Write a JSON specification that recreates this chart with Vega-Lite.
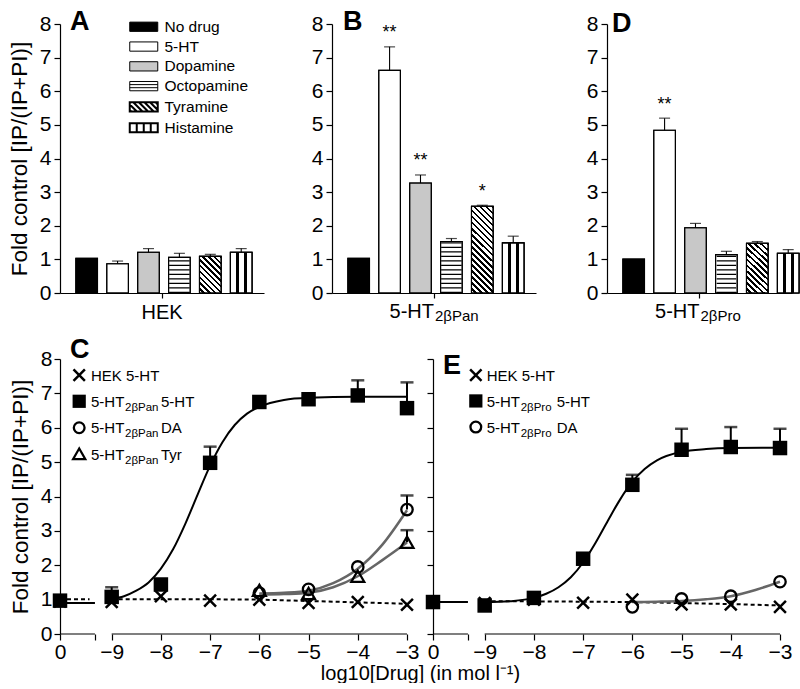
{
 "$schema": "https://vega.github.io/schema/vega-lite/v6.json",
 "padding": {"left": 8, "top": 8, "right": 0, "bottom": 0},
 "config": {
  "view": {"stroke": null},
  "font": "Liberation Sans",
  "text": {"font": "Liberation Sans", "color": "black"},
  "axis": {"labelFont": "Liberation Sans", "titleFont": "Liberation Sans", "labelColor": "black", "titleColor": "black", "domainColor": "black", "tickColor": "black", "grid": false, "labelFontSize": 21, "titleFontSize": 22.5, "titleFontWeight": "normal", "domainWidth": 1.2, "tickWidth": 1.2},
  "title": {"font": "Liberation Sans", "color": "black", "fontSize": 27, "fontWeight": "bold", "anchor": "start", "frame": "group", "baseline": "alphabetic"}
 },
 "datasets": {
  "one": [{"k": 1}],
  "bars": [
   {"panel": "A", "cell": "HEK", "drug": "No drug", "mean": 1.03, "upper": null, "sig": null},
   {"panel": "A", "cell": "HEK", "drug": "5-HT", "mean": 0.87, "upper": 0.95, "sig": null},
   {"panel": "A", "cell": "HEK", "drug": "Dopamine", "mean": 1.21, "upper": 1.32, "sig": null},
   {"panel": "A", "cell": "HEK", "drug": "Octopamine", "mean": 1.06, "upper": 1.18, "sig": null},
   {"panel": "A", "cell": "HEK", "drug": "Tyramine", "mean": 1.09, "upper": 1.15, "sig": null},
   {"panel": "A", "cell": "HEK", "drug": "Histamine", "mean": 1.21, "upper": 1.32, "sig": null},
   {"panel": "B", "cell": "5-HT2βPan", "drug": "No drug", "mean": 1.03, "upper": null, "sig": null},
   {"panel": "B", "cell": "5-HT2βPan", "drug": "5-HT", "mean": 6.62, "upper": 7.32, "sig": "**"},
   {"panel": "B", "cell": "5-HT2βPan", "drug": "Dopamine", "mean": 3.27, "upper": 3.51, "sig": "**"},
   {"panel": "B", "cell": "5-HT2βPan", "drug": "Octopamine", "mean": 1.53, "upper": 1.62, "sig": null},
   {"panel": "B", "cell": "5-HT2βPan", "drug": "Tyramine", "mean": 2.58, "upper": 2.61, "sig": "*"},
   {"panel": "B", "cell": "5-HT2βPan", "drug": "Histamine", "mean": 1.49, "upper": 1.69, "sig": null},
   {"panel": "D", "cell": "5-HT2βPro", "drug": "No drug", "mean": 1.01, "upper": null, "sig": null},
   {"panel": "D", "cell": "5-HT2βPro", "drug": "5-HT", "mean": 4.84, "upper": 5.2, "sig": "**"},
   {"panel": "D", "cell": "5-HT2βPro", "drug": "Dopamine", "mean": 1.94, "upper": 2.07, "sig": null},
   {"panel": "D", "cell": "5-HT2βPro", "drug": "Octopamine", "mean": 1.14, "upper": 1.24, "sig": null},
   {"panel": "D", "cell": "5-HT2βPro", "drug": "Tyramine", "mean": 1.48, "upper": 1.53, "sig": null},
   {"panel": "D", "cell": "5-HT2βPro", "drug": "Histamine", "mean": 1.18, "upper": 1.29, "sig": null}
  ],
  "curves": [
   {"panel": "C", "series": "HEK", "seg": "a", "x": -10.05, "y": 1.01},
   {"panel": "C", "series": "HEK", "seg": "a", "x": -9.45, "y": 1.01},
   {"panel": "C", "series": "HEK", "seg": "b", "x": -9, "y": 1.01},
   {"panel": "C", "series": "HEK", "seg": "b", "x": -8, "y": 1.01},
   {"panel": "C", "series": "HEK", "seg": "b", "x": -7, "y": 1.01},
   {"panel": "C", "series": "HEK", "seg": "b", "x": -6, "y": 1.0},
   {"panel": "C", "series": "HEK", "seg": "b", "x": -5, "y": 0.96},
   {"panel": "C", "series": "HEK", "seg": "b", "x": -4, "y": 0.92},
   {"panel": "C", "series": "HEK", "seg": "b", "x": -3, "y": 0.88},
   {"panel": "C", "series": "R5HT", "seg": "a", "x": -10.05, "y": 0.9},
   {"panel": "C", "series": "R5HT", "seg": "a", "x": -9.34, "y": 0.9},
   {"panel": "C", "series": "R5HT", "seg": "b", "x": -9, "y": 1.02},
   {"panel": "C", "series": "R5HT", "seg": "b", "x": -8.75, "y": 1.1},
   {"panel": "C", "series": "R5HT", "seg": "b", "x": -8.5, "y": 1.26},
   {"panel": "C", "series": "R5HT", "seg": "b", "x": -8.25, "y": 1.5},
   {"panel": "C", "series": "R5HT", "seg": "b", "x": -8, "y": 1.9},
   {"panel": "C", "series": "R5HT", "seg": "b", "x": -7.75, "y": 2.47},
   {"panel": "C", "series": "R5HT", "seg": "b", "x": -7.5, "y": 3.22},
   {"panel": "C", "series": "R5HT", "seg": "b", "x": -7.25, "y": 4.07},
   {"panel": "C", "series": "R5HT", "seg": "b", "x": -7, "y": 4.9},
   {"panel": "C", "series": "R5HT", "seg": "b", "x": -6.75, "y": 5.58},
   {"panel": "C", "series": "R5HT", "seg": "b", "x": -6.5, "y": 6.08},
   {"panel": "C", "series": "R5HT", "seg": "b", "x": -6.25, "y": 6.41},
   {"panel": "C", "series": "R5HT", "seg": "b", "x": -6, "y": 6.61},
   {"panel": "C", "series": "R5HT", "seg": "b", "x": -5.5, "y": 6.81},
   {"panel": "C", "series": "R5HT", "seg": "b", "x": -5, "y": 6.87},
   {"panel": "C", "series": "R5HT", "seg": "b", "x": -4, "y": 6.9},
   {"panel": "C", "series": "R5HT", "seg": "b", "x": -3, "y": 6.9},
   {"panel": "C", "series": "RDA", "seg": "b", "x": -6, "y": 1.18},
   {"panel": "C", "series": "RDA", "seg": "b", "x": -5.5, "y": 1.2},
   {"panel": "C", "series": "RDA", "seg": "b", "x": -5, "y": 1.26},
   {"panel": "C", "series": "RDA", "seg": "b", "x": -4.5, "y": 1.48},
   {"panel": "C", "series": "RDA", "seg": "b", "x": -4, "y": 1.9},
   {"panel": "C", "series": "RDA", "seg": "b", "x": -3.5, "y": 2.6},
   {"panel": "C", "series": "RDA", "seg": "b", "x": -3, "y": 3.6},
   {"panel": "C", "series": "RTyr", "seg": "b", "x": -6, "y": 1.14},
   {"panel": "C", "series": "RTyr", "seg": "b", "x": -5.5, "y": 1.16},
   {"panel": "C", "series": "RTyr", "seg": "b", "x": -5, "y": 1.2},
   {"panel": "C", "series": "RTyr", "seg": "b", "x": -4.5, "y": 1.36},
   {"panel": "C", "series": "RTyr", "seg": "b", "x": -4, "y": 1.68},
   {"panel": "C", "series": "RTyr", "seg": "b", "x": -3.5, "y": 2.15},
   {"panel": "C", "series": "RTyr", "seg": "b", "x": -3, "y": 2.66},
   {"panel": "E", "series": "HEK", "seg": "b", "x": -9, "y": 0.95},
   {"panel": "E", "series": "HEK", "seg": "b", "x": -8, "y": 0.95},
   {"panel": "E", "series": "HEK", "seg": "b", "x": -7, "y": 0.94},
   {"panel": "E", "series": "HEK", "seg": "b", "x": -6, "y": 0.93},
   {"panel": "E", "series": "HEK", "seg": "b", "x": -5, "y": 0.9},
   {"panel": "E", "series": "HEK", "seg": "b", "x": -4, "y": 0.87},
   {"panel": "E", "series": "HEK", "seg": "b", "x": -3, "y": 0.83},
   {"panel": "E", "series": "R5HT", "seg": "a", "x": -10.05, "y": 0.93},
   {"panel": "E", "series": "R5HT", "seg": "a", "x": -9.34, "y": 0.93},
   {"panel": "E", "series": "R5HT", "seg": "b", "x": -9, "y": 0.92},
   {"panel": "E", "series": "R5HT", "seg": "b", "x": -8.5, "y": 0.95},
   {"panel": "E", "series": "R5HT", "seg": "b", "x": -8, "y": 1.05},
   {"panel": "E", "series": "R5HT", "seg": "b", "x": -7.75, "y": 1.17},
   {"panel": "E", "series": "R5HT", "seg": "b", "x": -7.5, "y": 1.36},
   {"panel": "E", "series": "R5HT", "seg": "b", "x": -7.25, "y": 1.65},
   {"panel": "E", "series": "R5HT", "seg": "b", "x": -7, "y": 2.08},
   {"panel": "E", "series": "R5HT", "seg": "b", "x": -6.75, "y": 2.65},
   {"panel": "E", "series": "R5HT", "seg": "b", "x": -6.5, "y": 3.29},
   {"panel": "E", "series": "R5HT", "seg": "b", "x": -6.25, "y": 3.91},
   {"panel": "E", "series": "R5HT", "seg": "b", "x": -6, "y": 4.43},
   {"panel": "E", "series": "R5HT", "seg": "b", "x": -5.75, "y": 4.8},
   {"panel": "E", "series": "R5HT", "seg": "b", "x": -5.5, "y": 5.05},
   {"panel": "E", "series": "R5HT", "seg": "b", "x": -5, "y": 5.3},
   {"panel": "E", "series": "R5HT", "seg": "b", "x": -4.5, "y": 5.38},
   {"panel": "E", "series": "R5HT", "seg": "b", "x": -4, "y": 5.41},
   {"panel": "E", "series": "R5HT", "seg": "b", "x": -3, "y": 5.42},
   {"panel": "E", "series": "RDA", "seg": "b", "x": -6, "y": 0.93},
   {"panel": "E", "series": "RDA", "seg": "b", "x": -5.5, "y": 0.94},
   {"panel": "E", "series": "RDA", "seg": "b", "x": -5, "y": 0.96},
   {"panel": "E", "series": "RDA", "seg": "b", "x": -4.5, "y": 1.01},
   {"panel": "E", "series": "RDA", "seg": "b", "x": -4, "y": 1.1},
   {"panel": "E", "series": "RDA", "seg": "b", "x": -3.5, "y": 1.28},
   {"panel": "E", "series": "RDA", "seg": "b", "x": -3, "y": 1.52}
  ],
  "points": [
   {"panel": "C", "series": "HEK", "x": -10.05, "y": 0.95, "upper": null},
   {"panel": "C", "series": "HEK", "x": -9, "y": 0.93, "upper": null},
   {"panel": "C", "series": "HEK", "x": -8, "y": 1.1, "upper": null},
   {"panel": "C", "series": "HEK", "x": -7, "y": 0.97, "upper": null},
   {"panel": "C", "series": "HEK", "x": -6, "y": 1.0, "upper": null},
   {"panel": "C", "series": "HEK", "x": -5, "y": 0.9, "upper": null},
   {"panel": "C", "series": "HEK", "x": -4, "y": 0.93, "upper": null},
   {"panel": "C", "series": "HEK", "x": -3, "y": 0.85, "upper": null},
   {"panel": "C", "series": "R5HT", "x": -10.05, "y": 0.97, "upper": null},
   {"panel": "C", "series": "R5HT", "x": -9, "y": 1.08, "upper": 1.36},
   {"panel": "C", "series": "R5HT", "x": -8, "y": 1.44, "upper": null},
   {"panel": "C", "series": "R5HT", "x": -7, "y": 4.98, "upper": 5.45},
   {"panel": "C", "series": "R5HT", "x": -6, "y": 6.75, "upper": null},
   {"panel": "C", "series": "R5HT", "x": -5, "y": 6.83, "upper": null},
   {"panel": "C", "series": "R5HT", "x": -4, "y": 6.94, "upper": 7.38},
   {"panel": "C", "series": "R5HT", "x": -3, "y": 6.57, "upper": 7.32},
   {"panel": "C", "series": "RDA", "x": -6, "y": 1.19, "upper": null},
   {"panel": "C", "series": "RDA", "x": -5, "y": 1.3, "upper": null},
   {"panel": "C", "series": "RDA", "x": -4, "y": 1.95, "upper": null},
   {"panel": "C", "series": "RDA", "x": -3, "y": 3.62, "upper": 4.03},
   {"panel": "C", "series": "RTyr", "x": -6, "y": 1.27, "upper": null},
   {"panel": "C", "series": "RTyr", "x": -5, "y": 1.18, "upper": null},
   {"panel": "C", "series": "RTyr", "x": -4, "y": 1.68, "upper": null},
   {"panel": "C", "series": "RTyr", "x": -3, "y": 2.67, "upper": 3.02},
   {"panel": "E", "series": "HEK", "x": -10.05, "y": 0.93, "upper": null},
   {"panel": "E", "series": "HEK", "x": -9, "y": 0.9, "upper": null},
   {"panel": "E", "series": "HEK", "x": -8, "y": 1.0, "upper": null},
   {"panel": "E", "series": "HEK", "x": -7, "y": 0.91, "upper": null},
   {"panel": "E", "series": "HEK", "x": -6, "y": 1.0, "upper": null},
   {"panel": "E", "series": "HEK", "x": -5, "y": 0.86, "upper": null},
   {"panel": "E", "series": "HEK", "x": -4, "y": 0.86, "upper": null},
   {"panel": "E", "series": "HEK", "x": -3, "y": 0.79, "upper": null},
   {"panel": "E", "series": "R5HT", "x": -10.05, "y": 0.93, "upper": null},
   {"panel": "E", "series": "R5HT", "x": -9, "y": 0.83, "upper": null},
   {"panel": "E", "series": "R5HT", "x": -8, "y": 1.05, "upper": null},
   {"panel": "E", "series": "R5HT", "x": -7, "y": 2.19, "upper": null},
   {"panel": "E", "series": "R5HT", "x": -6, "y": 4.34, "upper": 4.63},
   {"panel": "E", "series": "R5HT", "x": -5, "y": 5.36, "upper": 5.97},
   {"panel": "E", "series": "R5HT", "x": -4, "y": 5.44, "upper": 6.02},
   {"panel": "E", "series": "R5HT", "x": -3, "y": 5.41, "upper": 5.97},
   {"panel": "E", "series": "RDA", "x": -6, "y": 0.79, "upper": null},
   {"panel": "E", "series": "RDA", "x": -5, "y": 1.02, "upper": null},
   {"panel": "E", "series": "RDA", "x": -4, "y": 1.1, "upper": null},
   {"panel": "E", "series": "RDA", "x": -3, "y": 1.52, "upper": null}
  ]
 },
 "spacing": 12,
 "vconcat": [
  {
   "bounds": "flush",
   "spacing": 68,
   "hconcat": [
    {
     "width": 204, "height": 269,
     "title": {"text": "A", "offset": -23.3, "dx": 10},
     "data": {"name": "bars"},
     "transform": [{"filter": "datum.panel === 'A'"}],
     "encoding": {
      "x": {"field": "cell", "type": "nominal", "scale": {"paddingInner": 0, "paddingOuter": 0}, "axis": {"title": null, "labelAngle": 0, "tickSize": 5, "labelPadding": 4, "labelFontSize": 20}},
      "y": {"field": "mean", "type": "quantitative", "scale": {"domain": [0, 8]}, "axis": {"values": [0, 1, 2, 3, 4, 5, 6, 7, 8], "tickSize": 6, "labelPadding": 3, "titlePadding": 8}, "title": "Fold control [IP/(IP+PI)]"}
     },
     "layer": [
      {"mark": {"type": "bar", "stroke": "black", "strokeWidth": 1.1},
       "encoding": {
        "xOffset": {"field": "drug", "type": "nominal", "sort": ["No drug", "5-HT", "Dopamine", "Octopamine", "Tyramine", "Histamine"], "scale": {"domain": ["No drug", "5-HT", "Dopamine", "Octopamine", "Tyramine", "Histamine"], "paddingInner": 0.3, "paddingOuter": 0.45, "align": 0.57}},
        "fill": {"field": "drug", "type": "nominal", "scale": {"domain": ["No drug", "5-HT", "Dopamine", "Octopamine", "Tyramine", "Histamine"], "range": ["black", "white", "#c8c8c8", "white", "white", "white"]},
        "legend": {"orient": "none", "legendX": 76, "legendY": -5, "title": null, "labelFontSize": 15.5, "labelFont": "Liberation Sans", "labelColor": "black", "symbolSize": 196, "labelOffset": 13, "rowPadding": 2.8, "symbolStrokeColor": "black", "symbolStrokeWidth": 1, "symbolOpacity": 1,
         "encode": {"symbols": {"update": {
          "shape": {"signal": "datum.value === 'Octopamine' ? 'M-2,-0.66H2V0.66H-2Z M-2,-0.22H2 M-2,0.22H2' : datum.value === 'Tyramine' ? 'M-2,-0.66H2V0.66H-2Z M-2,-0.36L-0.98,0.66 M-1.5,-0.66L-0.18,0.66 M-0.7,-0.66L0.62,0.66 M0.1,-0.66L1.42,0.66 M0.9,-0.66L2,0.44 M1.7,-0.66L2,-0.36 M-2,0.44L-1.78,0.66' : datum.value === 'Histamine' ? 'M-2,-0.66H2V0.66H-2Z M-1,-0.66V0.66 M0,-0.66V0.66 M1,-0.66V0.66' : 'M-2,-0.66H2V0.66H-2Z'"},
          "strokeWidth": {"signal": "datum.value === 'Tyramine' || datum.value === 'Histamine' ? 2 : 1"},
          "stroke": {"value": "black"}
         }}}}}}},
      {"transform": [{"filter": "datum.drug === 'Octopamine'"}], "mark": {"type": "rule", "color": "black", "strokeWidth": 20.6, "strokeDash": [1.3, 3.2], "strokeCap": "butt"}, "encoding": {"xOffset": {"field": "drug", "type": "nominal"}, "y": {"datum": 0}, "y2": {"field": "mean"}}},
      {"transform": [{"filter": "datum.drug === 'Histamine'"}], "mark": {"type": "bar", "stroke": "black", "strokeWidth": 1.1, "fill": {"gradient": "linear", "x1": 0, "y1": 0, "x2": 1, "y2": 0, "stops": [{"offset": 0, "color": "white"}, {"offset": 0.26, "color": "white"}, {"offset": 0.26, "color": "black"}, {"offset": 0.4, "color": "black"}, {"offset": 0.4, "color": "white"}, {"offset": 0.62, "color": "white"}, {"offset": 0.62, "color": "black"}, {"offset": 0.76, "color": "black"}, {"offset": 0.76, "color": "white"}, {"offset": 1, "color": "white"}]}}, "encoding": {"xOffset": {"field": "drug", "type": "nominal"}}},
      {"transform": [{"filter": "datum.drug === 'Tyramine'"}], "mark": {"type": "bar", "stroke": "black", "strokeWidth": 1.1, "fill": {"gradient": "linear", "x1": 0, "y1": 1, "x2": 0.696, "y2": -0.179, "stops": [
       {"offset": 0, "color": "white"}, {"offset": 0.055, "color": "white"}, {"offset": 0.055, "color": "black"}, {"offset": 0.1, "color": "black"},
       {"offset": 0.1, "color": "white"}, {"offset": 0.155, "color": "white"}, {"offset": 0.155, "color": "black"}, {"offset": 0.2, "color": "black"},
       {"offset": 0.2, "color": "white"}, {"offset": 0.255, "color": "white"}, {"offset": 0.255, "color": "black"}, {"offset": 0.3, "color": "black"},
       {"offset": 0.3, "color": "white"}, {"offset": 0.355, "color": "white"}, {"offset": 0.355, "color": "black"}, {"offset": 0.4, "color": "black"},
       {"offset": 0.4, "color": "white"}, {"offset": 0.455, "color": "white"}, {"offset": 0.455, "color": "black"}, {"offset": 0.5, "color": "black"},
       {"offset": 0.5, "color": "white"}, {"offset": 0.555, "color": "white"}, {"offset": 0.555, "color": "black"}, {"offset": 0.6, "color": "black"},
       {"offset": 0.6, "color": "white"}, {"offset": 0.655, "color": "white"}, {"offset": 0.655, "color": "black"}, {"offset": 0.7, "color": "black"},
       {"offset": 0.7, "color": "white"}, {"offset": 0.755, "color": "white"}, {"offset": 0.755, "color": "black"}, {"offset": 0.8, "color": "black"},
       {"offset": 0.8, "color": "white"}, {"offset": 0.855, "color": "white"}, {"offset": 0.855, "color": "black"}, {"offset": 0.9, "color": "black"},
       {"offset": 0.9, "color": "white"}, {"offset": 0.955, "color": "white"}, {"offset": 0.955, "color": "black"}, {"offset": 1, "color": "black"}]}}, "encoding": {"xOffset": {"field": "drug", "type": "nominal"}}},
      {"mark": {"type": "bar", "fill": "transparent", "stroke": "black", "strokeWidth": 1.1}, "encoding": {"xOffset": {"field": "drug", "type": "nominal"}}},
      {"transform": [{"filter": "datum.upper != null"}], "mark": {"type": "rule", "color": "black", "strokeWidth": 1.1}, "encoding": {"xOffset": {"field": "drug", "type": "nominal"}, "y2": {"field": "upper"}}},
      {"transform": [{"filter": "datum.upper != null"}], "mark": {"type": "tick", "orient": "horizontal", "color": "black", "size": 11, "thickness": 1.2}, "encoding": {"xOffset": {"field": "drug", "type": "nominal"}, "y": {"field": "upper", "type": "quantitative", "title": "Fold control [IP/(IP+PI)]"}}}
     ]
    },
    {
     "bounds": "flush",
     "spacing": 71,
     "hconcat": [
      {
       "width": 204, "height": 269,
       "title": {"text": "B", "offset": -23.3, "dx": 11},
       "data": {"name": "bars"},
       "transform": [{"filter": "datum.panel === 'B'"}],
       "encoding": {
        "x": {"field": "cell", "type": "nominal", "scale": {"paddingInner": 0, "paddingOuter": 0}, "axis": {"title": null, "labels": false, "tickSize": 5}},
        "y": {"field": "mean", "type": "quantitative", "scale": {"domain": [0, 8]}, "axis": {"values": [0, 1, 2, 3, 4, 5, 6, 7, 8], "tickSize": 6, "labelPadding": 3}, "title": null}
       },
       "layer": [
        {"mark": {"type": "bar", "stroke": "black", "strokeWidth": 1.1}, "encoding": {
         "xOffset": {"field": "drug", "type": "nominal", "sort": ["No drug", "5-HT", "Dopamine", "Octopamine", "Tyramine", "Histamine"], "scale": {"domain": ["No drug", "5-HT", "Dopamine", "Octopamine", "Tyramine", "Histamine"], "paddingInner": 0.3, "paddingOuter": 0.45, "align": 0.43}},
         "fill": {"field": "drug", "type": "nominal", "scale": {"domain": ["No drug", "5-HT", "Dopamine", "Octopamine", "Tyramine", "Histamine"], "range": ["black", "white", "#c8c8c8", "white", "white", "white"]}, "legend": null}}},
        {"transform": [{"filter": "datum.drug === 'Octopamine'"}], "mark": {"type": "rule", "color": "black", "strokeWidth": 20.6, "strokeDash": [1.3, 3.2], "strokeCap": "butt"}, "encoding": {"xOffset": {"field": "drug", "type": "nominal"}, "y": {"datum": 0}, "y2": {"field": "mean"}}},
        {"transform": [{"filter": "datum.drug === 'Histamine'"}], "mark": {"type": "bar", "stroke": "black", "strokeWidth": 1.1, "fill": {"gradient": "linear", "x1": 0, "y1": 0, "x2": 1, "y2": 0, "stops": [{"offset": 0, "color": "white"}, {"offset": 0.26, "color": "white"}, {"offset": 0.26, "color": "black"}, {"offset": 0.4, "color": "black"}, {"offset": 0.4, "color": "white"}, {"offset": 0.62, "color": "white"}, {"offset": 0.62, "color": "black"}, {"offset": 0.76, "color": "black"}, {"offset": 0.76, "color": "white"}, {"offset": 1, "color": "white"}]}}, "encoding": {"xOffset": {"field": "drug", "type": "nominal"}}},
        {"transform": [{"filter": "datum.drug === 'Tyramine'"}], "mark": {"type": "bar", "stroke": "black", "strokeWidth": 1.1, "fill": {"gradient": "linear", "x1": 0, "y1": 1, "x2": 0.2926, "y2": -0.176, "stops": [
         {"offset": 0, "color": "white"}, {"offset": 0.03056, "color": "white"}, {"offset": 0.03056, "color": "black"}, {"offset": 0.05556, "color": "black"},
         {"offset": 0.05556, "color": "white"}, {"offset": 0.08611, "color": "white"}, {"offset": 0.08611, "color": "black"}, {"offset": 0.11111, "color": "black"},
         {"offset": 0.11111, "color": "white"}, {"offset": 0.14167, "color": "white"}, {"offset": 0.14167, "color": "black"}, {"offset": 0.16667, "color": "black"},
         {"offset": 0.16667, "color": "white"}, {"offset": 0.19722, "color": "white"}, {"offset": 0.19722, "color": "black"}, {"offset": 0.22222, "color": "black"},
         {"offset": 0.22222, "color": "white"}, {"offset": 0.25278, "color": "white"}, {"offset": 0.25278, "color": "black"}, {"offset": 0.27778, "color": "black"},
         {"offset": 0.27778, "color": "white"}, {"offset": 0.30833, "color": "white"}, {"offset": 0.30833, "color": "black"}, {"offset": 0.33333, "color": "black"},
         {"offset": 0.33333, "color": "white"}, {"offset": 0.36389, "color": "white"}, {"offset": 0.36389, "color": "black"}, {"offset": 0.38889, "color": "black"},
         {"offset": 0.38889, "color": "white"}, {"offset": 0.41944, "color": "white"}, {"offset": 0.41944, "color": "black"}, {"offset": 0.44444, "color": "black"},
         {"offset": 0.44444, "color": "white"}, {"offset": 0.475, "color": "white"}, {"offset": 0.475, "color": "black"}, {"offset": 0.5, "color": "black"},
         {"offset": 0.5, "color": "white"}, {"offset": 0.53056, "color": "white"}, {"offset": 0.53056, "color": "black"}, {"offset": 0.55556, "color": "black"},
         {"offset": 0.55556, "color": "white"}, {"offset": 0.58611, "color": "white"}, {"offset": 0.58611, "color": "black"}, {"offset": 0.61111, "color": "black"},
         {"offset": 0.61111, "color": "white"}, {"offset": 0.64167, "color": "white"}, {"offset": 0.64167, "color": "black"}, {"offset": 0.66667, "color": "black"},
         {"offset": 0.66667, "color": "white"}, {"offset": 0.69722, "color": "white"}, {"offset": 0.69722, "color": "black"}, {"offset": 0.72222, "color": "black"},
         {"offset": 0.72222, "color": "white"}, {"offset": 0.75278, "color": "white"}, {"offset": 0.75278, "color": "black"}, {"offset": 0.77778, "color": "black"},
         {"offset": 0.77778, "color": "white"}, {"offset": 0.80833, "color": "white"}, {"offset": 0.80833, "color": "black"}, {"offset": 0.83333, "color": "black"},
         {"offset": 0.83333, "color": "white"}, {"offset": 0.86389, "color": "white"}, {"offset": 0.86389, "color": "black"}, {"offset": 0.88889, "color": "black"},
         {"offset": 0.88889, "color": "white"}, {"offset": 0.91944, "color": "white"}, {"offset": 0.91944, "color": "black"}, {"offset": 0.94444, "color": "black"},
         {"offset": 0.94444, "color": "white"}, {"offset": 0.975, "color": "white"}, {"offset": 0.975, "color": "black"}, {"offset": 1, "color": "black"}]}}, "encoding": {"xOffset": {"field": "drug", "type": "nominal"}}},
        {"mark": {"type": "bar", "fill": "transparent", "stroke": "black", "strokeWidth": 1.1}, "encoding": {"xOffset": {"field": "drug", "type": "nominal"}}},
        {"transform": [{"filter": "datum.upper != null"}], "mark": {"type": "rule", "color": "black", "strokeWidth": 1.1}, "encoding": {"xOffset": {"field": "drug", "type": "nominal"}, "y2": {"field": "upper"}}},
        {"transform": [{"filter": "datum.upper != null"}], "mark": {"type": "tick", "orient": "horizontal", "color": "black", "size": 11, "thickness": 1.2}, "encoding": {"xOffset": {"field": "drug", "type": "nominal"}, "y": {"field": "upper", "type": "quantitative", "title": null}}},
        {"transform": [{"filter": "datum.sig != null"}], "mark": {"type": "text", "fontSize": 18, "dy": -8.5, "baseline": "alphabetic"}, "encoding": {"xOffset": {"field": "drug", "type": "nominal"}, "y": {"field": "upper", "type": "quantitative", "title": null}, "text": {"field": "sig"}}},
        {"transform": [{"filter": "datum.drug === 'No drug'"}], "mark": {"type": "text", "align": "right", "baseline": "alphabetic", "fontSize": 20, "dy": 25, "clip": false}, "encoding": {"y": {"datum": 0}, "text": {"value": "5-HT"}}},
        {"transform": [{"filter": "datum.drug === 'No drug'"}], "mark": {"type": "text", "align": "left", "baseline": "alphabetic", "fontSize": 15, "dx": 1, "dy": 28, "clip": false}, "encoding": {"y": {"datum": 0}, "text": {"value": "2βPan"}}}
       ]
      },
      {
       "width": 185, "height": 269,
       "title": {"text": "D", "offset": -25.3, "dx": 5},
       "data": {"name": "bars"},
       "transform": [{"filter": "datum.panel === 'D'"}],
       "encoding": {
        "x": {"field": "cell", "type": "nominal", "scale": {"paddingInner": 0, "paddingOuter": 0}, "axis": {"title": null, "labels": false, "tickSize": 5}},
        "y": {"field": "mean", "type": "quantitative", "scale": {"domain": [0, 8]}, "axis": {"values": [0, 1, 2, 3, 4, 5, 6, 7, 8], "tickSize": 6, "labelPadding": 3}, "title": null}
       },
       "layer": [
        {"mark": {"type": "bar", "stroke": "black", "strokeWidth": 1.1}, "encoding": {
         "xOffset": {"field": "drug", "type": "nominal", "sort": ["No drug", "5-HT", "Dopamine", "Octopamine", "Tyramine", "Histamine"], "scale": {"domain": ["No drug", "5-HT", "Dopamine", "Octopamine", "Tyramine", "Histamine"], "paddingInner": 0.3, "paddingOuter": 0.307, "align": 0.56}},
         "fill": {"field": "drug", "type": "nominal", "scale": {"domain": ["No drug", "5-HT", "Dopamine", "Octopamine", "Tyramine", "Histamine"], "range": ["black", "white", "#c8c8c8", "white", "white", "white"]}, "legend": null}}},
        {"transform": [{"filter": "datum.drug === 'Octopamine'"}], "mark": {"type": "rule", "color": "black", "strokeWidth": 19.5, "strokeDash": [1.3, 3.2], "strokeCap": "butt"}, "encoding": {"xOffset": {"field": "drug", "type": "nominal"}, "y": {"datum": 0}, "y2": {"field": "mean"}}},
        {"transform": [{"filter": "datum.drug === 'Histamine'"}], "mark": {"type": "bar", "stroke": "black", "strokeWidth": 1.1, "fill": {"gradient": "linear", "x1": 0, "y1": 0, "x2": 1, "y2": 0, "stops": [{"offset": 0, "color": "white"}, {"offset": 0.26, "color": "white"}, {"offset": 0.26, "color": "black"}, {"offset": 0.4, "color": "black"}, {"offset": 0.4, "color": "white"}, {"offset": 0.62, "color": "white"}, {"offset": 0.62, "color": "black"}, {"offset": 0.76, "color": "black"}, {"offset": 0.76, "color": "white"}, {"offset": 1, "color": "white"}]}}, "encoding": {"xOffset": {"field": "drug", "type": "nominal"}}},
        {"transform": [{"filter": "datum.drug === 'Tyramine'"}], "mark": {"type": "bar", "stroke": "black", "strokeWidth": 1.1, "fill": {"gradient": "linear", "x1": 0, "y1": 1, "x2": 0.4963, "y2": -0.207, "stops": [
         {"offset": 0, "color": "white"}, {"offset": 0.04583, "color": "white"}, {"offset": 0.04583, "color": "black"}, {"offset": 0.08333, "color": "black"},
         {"offset": 0.08333, "color": "white"}, {"offset": 0.12917, "color": "white"}, {"offset": 0.12917, "color": "black"}, {"offset": 0.16667, "color": "black"},
         {"offset": 0.16667, "color": "white"}, {"offset": 0.2125, "color": "white"}, {"offset": 0.2125, "color": "black"}, {"offset": 0.25, "color": "black"},
         {"offset": 0.25, "color": "white"}, {"offset": 0.29583, "color": "white"}, {"offset": 0.29583, "color": "black"}, {"offset": 0.33333, "color": "black"},
         {"offset": 0.33333, "color": "white"}, {"offset": 0.37917, "color": "white"}, {"offset": 0.37917, "color": "black"}, {"offset": 0.41667, "color": "black"},
         {"offset": 0.41667, "color": "white"}, {"offset": 0.4625, "color": "white"}, {"offset": 0.4625, "color": "black"}, {"offset": 0.5, "color": "black"},
         {"offset": 0.5, "color": "white"}, {"offset": 0.54583, "color": "white"}, {"offset": 0.54583, "color": "black"}, {"offset": 0.58333, "color": "black"},
         {"offset": 0.58333, "color": "white"}, {"offset": 0.62917, "color": "white"}, {"offset": 0.62917, "color": "black"}, {"offset": 0.66667, "color": "black"},
         {"offset": 0.66667, "color": "white"}, {"offset": 0.7125, "color": "white"}, {"offset": 0.7125, "color": "black"}, {"offset": 0.75, "color": "black"},
         {"offset": 0.75, "color": "white"}, {"offset": 0.79583, "color": "white"}, {"offset": 0.79583, "color": "black"}, {"offset": 0.83333, "color": "black"},
         {"offset": 0.83333, "color": "white"}, {"offset": 0.87917, "color": "white"}, {"offset": 0.87917, "color": "black"}, {"offset": 0.91667, "color": "black"},
         {"offset": 0.91667, "color": "white"}, {"offset": 0.9625, "color": "white"}, {"offset": 0.9625, "color": "black"}, {"offset": 1, "color": "black"}]}}, "encoding": {"xOffset": {"field": "drug", "type": "nominal"}}},
        {"mark": {"type": "bar", "fill": "transparent", "stroke": "black", "strokeWidth": 1.1}, "encoding": {"xOffset": {"field": "drug", "type": "nominal"}}},
        {"transform": [{"filter": "datum.upper != null"}], "mark": {"type": "rule", "color": "black", "strokeWidth": 1.1}, "encoding": {"xOffset": {"field": "drug", "type": "nominal"}, "y2": {"field": "upper"}}},
        {"transform": [{"filter": "datum.upper != null"}], "mark": {"type": "tick", "orient": "horizontal", "color": "black", "size": 11, "thickness": 1.2}, "encoding": {"xOffset": {"field": "drug", "type": "nominal"}, "y": {"field": "upper", "type": "quantitative", "title": null}}},
        {"transform": [{"filter": "datum.sig != null"}], "mark": {"type": "text", "fontSize": 18, "dy": -8.5, "baseline": "alphabetic"}, "encoding": {"xOffset": {"field": "drug", "type": "nominal"}, "y": {"field": "upper", "type": "quantitative", "title": null}, "text": {"field": "sig"}}},
        {"transform": [{"filter": "datum.drug === 'No drug'"}], "mark": {"type": "text", "align": "right", "baseline": "alphabetic", "fontSize": 20, "dy": 25, "clip": false}, "encoding": {"y": {"datum": 0}, "text": {"value": "5-HT"}}},
        {"transform": [{"filter": "datum.drug === 'No drug'"}], "mark": {"type": "text", "align": "left", "baseline": "alphabetic", "fontSize": 15, "dx": 1, "dy": 28, "clip": false}, "encoding": {"y": {"datum": 0}, "text": {"value": "2βPro"}}}
       ]
      }
     ]
    }
   ]
  },
  {
   "bounds": "flush",
   "spacing": 26,
   "hconcat": [
    {
     "width": 347, "height": 275,
     "title": {"text": "C", "offset": -16, "dx": 10},
     "layer": [
      {"data": {"name": "curves"}, "transform": [{"filter": "datum.panel === 'C' && datum.series === 'HEK'"}], "mark": {"type": "line", "color": "black", "strokeWidth": 2, "strokeDash": [4, 3]},
       "encoding": {
        "x": {"field": "x", "type": "quantitative", "scale": {"domain": [-10.05, -3], "nice": false, "zero": false},
         "axis": {"values": [-10.05, -9.34, -9, -8, -7, -6, -5, -4, -3], "labelExpr": "datum.value < -10 ? '0' : datum.value < -9.2 ? '' : '−' + format(-datum.value, 'd')", "domain": false, "tickSize": 6, "labelPadding": 1, "labelFlush": false, "labelOverlap": false, "labelBound": false, "titleFontSize": 20, "titleX": 360, "titleY": 45, "titleAlign": "center", "titleBaseline": "alphabetic"},
         "title": "log10[Drug] (in mol l⁻¹)"},
        "y": {"field": "y", "type": "quantitative", "scale": {"domain": [0, 8]}, "axis": {"values": [0, 1, 2, 3, 4, 5, 6, 7, 8], "tickSize": 6, "labelPadding": 2, "titlePadding": 8, "labelOverlap": false}, "title": "Fold control [IP/(IP+PI)]"},
        "detail": {"field": "seg"}}},
      {"data": {"values": [{}]}, "mark": {"type": "rule", "color": "black", "strokeWidth": 1.2}, "encoding": {"x": {"datum": -10.05}, "x2": {"datum": -9.34}, "y": {"datum": 0, "axis": {"values": [0, 1, 2, 3, 4, 5, 6, 7, 8], "tickSize": 6, "labelPadding": 2, "titlePadding": 8, "labelOverlap": false}, "title": "Fold control [IP/(IP+PI)]"}}},
      {"data": {"values": [{}]}, "mark": {"type": "rule", "color": "black", "strokeWidth": 1.2}, "encoding": {"x": {"datum": -9}, "x2": {"datum": -3}, "y": {"datum": 0, "axis": {"values": [0, 1, 2, 3, 4, 5, 6, 7, 8], "tickSize": 6, "labelPadding": 2, "titlePadding": 8, "labelOverlap": false}, "title": "Fold control [IP/(IP+PI)]"}}},
      {"data": {"name": "curves"}, "transform": [{"filter": "datum.panel === 'C' && datum.series === 'R5HT'"}], "mark": {"type": "line", "color": "black", "strokeWidth": 2, "interpolate": "monotone"}, "encoding": {"x": {"field": "x", "type": "quantitative", "title": "log10[Drug] (in mol l⁻¹)"}, "y": {"field": "y", "type": "quantitative", "axis": {"values": [0, 1, 2, 3, 4, 5, 6, 7, 8], "tickSize": 6, "labelPadding": 2, "titlePadding": 8, "labelOverlap": false}, "title": "Fold control [IP/(IP+PI)]"}, "detail": {"field": "seg"}}},
      {"data": {"name": "curves"}, "transform": [{"filter": "datum.panel === 'C' && datum.series === 'RDA'"}], "mark": {"type": "line", "color": "#666666", "strokeWidth": 2.5, "interpolate": "monotone"}, "encoding": {"x": {"field": "x", "type": "quantitative", "title": "log10[Drug] (in mol l⁻¹)"}, "y": {"field": "y", "type": "quantitative", "axis": {"values": [0, 1, 2, 3, 4, 5, 6, 7, 8], "tickSize": 6, "labelPadding": 2, "titlePadding": 8, "labelOverlap": false}, "title": "Fold control [IP/(IP+PI)]"}}},
      {"data": {"name": "curves"}, "transform": [{"filter": "datum.panel === 'C' && datum.series === 'RTyr'"}], "mark": {"type": "line", "color": "#666666", "strokeWidth": 2.5, "interpolate": "monotone"}, "encoding": {"x": {"field": "x", "type": "quantitative", "title": "log10[Drug] (in mol l⁻¹)"}, "y": {"field": "y", "type": "quantitative", "axis": {"values": [0, 1, 2, 3, 4, 5, 6, 7, 8], "tickSize": 6, "labelPadding": 2, "titlePadding": 8, "labelOverlap": false}, "title": "Fold control [IP/(IP+PI)]"}}},
      {"data": {"name": "points"}, "transform": [{"filter": "datum.panel === 'C' && datum.upper != null"}], "mark": {"type": "rule", "color": "black", "strokeWidth": 2}, "encoding": {"x": {"field": "x", "type": "quantitative", "title": "log10[Drug] (in mol l⁻¹)"}, "y": {"field": "y", "type": "quantitative", "axis": {"values": [0, 1, 2, 3, 4, 5, 6, 7, 8], "tickSize": 6, "labelPadding": 2, "titlePadding": 8, "labelOverlap": false}, "title": "Fold control [IP/(IP+PI)]"}, "y2": {"field": "upper"}}},
      {"data": {"name": "points"}, "transform": [{"filter": "datum.panel === 'C' && datum.upper != null"}], "mark": {"type": "tick", "orient": "horizontal", "color": "black", "size": 13, "thickness": 2.5}, "encoding": {"x": {"field": "x", "type": "quantitative", "title": "log10[Drug] (in mol l⁻¹)"}, "y": {"field": "upper", "type": "quantitative", "axis": {"values": [0, 1, 2, 3, 4, 5, 6, 7, 8], "tickSize": 6, "labelPadding": 2, "titlePadding": 8, "labelOverlap": false}, "title": "Fold control [IP/(IP+PI)]"}}},
      {"data": {"name": "points"}, "transform": [{"filter": "datum.panel === 'C' && datum.series === 'HEK'"}], "mark": {"type": "point", "shape": "M-1,-1L1,1M-1,1L1,-1", "size": 140, "strokeWidth": 2.5, "color": "black", "filled": false, "opacity": 1}, "encoding": {"x": {"field": "x", "type": "quantitative", "title": "log10[Drug] (in mol l⁻¹)"}, "y": {"field": "y", "type": "quantitative", "axis": {"values": [0, 1, 2, 3, 4, 5, 6, 7, 8], "tickSize": 6, "labelPadding": 2, "titlePadding": 8, "labelOverlap": false}, "title": "Fold control [IP/(IP+PI)]"}}},
      {"data": {"name": "points"}, "transform": [{"filter": "datum.panel === 'C' && datum.series === 'R5HT'"}], "mark": {"type": "point", "shape": "square", "size": 210, "color": "black", "filled": true, "opacity": 1}, "encoding": {"x": {"field": "x", "type": "quantitative", "title": "log10[Drug] (in mol l⁻¹)"}, "y": {"field": "y", "type": "quantitative", "axis": {"values": [0, 1, 2, 3, 4, 5, 6, 7, 8], "tickSize": 6, "labelPadding": 2, "titlePadding": 8, "labelOverlap": false}, "title": "Fold control [IP/(IP+PI)]"}}},
      {"data": {"name": "points"}, "transform": [{"filter": "datum.panel === 'C' && datum.series === 'RDA'"}], "mark": {"type": "point", "shape": "circle", "size": 130, "strokeWidth": 2.3, "color": "black", "filled": false, "opacity": 1}, "encoding": {"x": {"field": "x", "type": "quantitative", "title": "log10[Drug] (in mol l⁻¹)"}, "y": {"field": "y", "type": "quantitative", "axis": {"values": [0, 1, 2, 3, 4, 5, 6, 7, 8], "tickSize": 6, "labelPadding": 2, "titlePadding": 8, "labelOverlap": false}, "title": "Fold control [IP/(IP+PI)]"}}},
      {"data": {"name": "points"}, "transform": [{"filter": "datum.panel === 'C' && datum.series === 'RTyr'"}], "mark": {"type": "point", "shape": "triangle-up", "size": 170, "strokeWidth": 2.2, "color": "black", "filled": false, "opacity": 1}, "encoding": {"x": {"field": "x", "type": "quantitative", "title": "log10[Drug] (in mol l⁻¹)"}, "y": {"field": "y", "type": "quantitative", "axis": {"values": [0, 1, 2, 3, 4, 5, 6, 7, 8], "tickSize": 6, "labelPadding": 2, "titlePadding": 8, "labelOverlap": false}, "title": "Fold control [IP/(IP+PI)]"}}},
      {"data": {"name": "one"}, "mark": {"type": "point", "shape": "M-1,-1L1,1M-1,1L1,-1", "size": 130, "strokeWidth": 2.5, "color": "black", "filled": false, "opacity": 1}, "encoding": {"x": {"datum": -9.66, "type": "quantitative"}, "y": {"datum": 7.53, "type": "quantitative", "axis": {"values": [0, 1, 2, 3, 4, 5, 6, 7, 8], "tickSize": 6, "labelPadding": 2, "titlePadding": 8, "labelOverlap": false}, "title": "Fold control [IP/(IP+PI)]"}}},
      {"data": {"name": "one"}, "mark": {"type": "point", "shape": "square", "size": 175, "color": "black", "filled": true, "opacity": 1}, "encoding": {"x": {"datum": -9.66, "type": "quantitative"}, "y": {"datum": 6.77, "type": "quantitative", "axis": {"values": [0, 1, 2, 3, 4, 5, 6, 7, 8], "tickSize": 6, "labelPadding": 2, "titlePadding": 8, "labelOverlap": false}, "title": "Fold control [IP/(IP+PI)]"}}},
      {"data": {"name": "one"}, "mark": {"type": "point", "shape": "circle", "size": 115, "strokeWidth": 2.3, "color": "black", "filled": false, "opacity": 1}, "encoding": {"x": {"datum": -9.66, "type": "quantitative"}, "y": {"datum": 6.0, "type": "quantitative", "axis": {"values": [0, 1, 2, 3, 4, 5, 6, 7, 8], "tickSize": 6, "labelPadding": 2, "titlePadding": 8, "labelOverlap": false}, "title": "Fold control [IP/(IP+PI)]"}}},
      {"data": {"name": "one"}, "mark": {"type": "point", "shape": "triangle-up", "size": 150, "strokeWidth": 2.2, "color": "black", "filled": false, "opacity": 1}, "encoding": {"x": {"datum": -9.66, "type": "quantitative"}, "y": {"datum": 5.24, "type": "quantitative", "axis": {"values": [0, 1, 2, 3, 4, 5, 6, 7, 8], "tickSize": 6, "labelPadding": 2, "titlePadding": 8, "labelOverlap": false}, "title": "Fold control [IP/(IP+PI)]"}}},
      {"data": {"name": "one"}, "mark": {"type": "text", "align": "left", "baseline": "top", "fontSize": 15, "lineHeight": 26.3}, "encoding": {"x": {"datum": -9.42, "type": "quantitative"}, "y": {"datum": 7.72, "type": "quantitative", "axis": {"values": [0, 1, 2, 3, 4, 5, 6, 7, 8], "tickSize": 6, "labelPadding": 2, "titlePadding": 8, "labelOverlap": false}, "title": "Fold control [IP/(IP+PI)]"}, "text": {"value": ["HEK 5-HT", "5-HT", "5-HT", "5-HT"]}}},
      {"data": {"name": "one"}, "mark": {"type": "text", "align": "left", "baseline": "top", "fontSize": 11.5, "lineHeight": 26.3, "dx": 34, "dy": 7}, "encoding": {"x": {"datum": -9.42, "type": "quantitative"}, "y": {"datum": 7.72, "type": "quantitative", "axis": {"values": [0, 1, 2, 3, 4, 5, 6, 7, 8], "tickSize": 6, "labelPadding": 2, "titlePadding": 8, "labelOverlap": false}, "title": "Fold control [IP/(IP+PI)]"}, "text": {"value": [" ", "2βPan", "2βPan", "2βPan"]}}},
      {"data": {"name": "one"}, "mark": {"type": "text", "align": "left", "baseline": "top", "fontSize": 15, "lineHeight": 26.3, "dx": 70}, "encoding": {"x": {"datum": -9.42, "type": "quantitative"}, "y": {"datum": 7.72, "type": "quantitative", "axis": {"values": [0, 1, 2, 3, 4, 5, 6, 7, 8], "tickSize": 6, "labelPadding": 2, "titlePadding": 8, "labelOverlap": false}, "title": "Fold control [IP/(IP+PI)]"}, "text": {"value": [" ", "5-HT", "DA", "Tyr"]}}}
     ]
    },
    {
     "width": 347, "height": 275,
     "title": {"text": "E", "offset": -22, "dx": 10},
     "layer": [
      {"data": {"name": "curves"}, "transform": [{"filter": "datum.panel === 'E' && datum.series === 'HEK'"}], "mark": {"type": "line", "color": "black", "strokeWidth": 2, "strokeDash": [4, 3]},
       "encoding": {
        "x": {"field": "x", "type": "quantitative", "scale": {"domain": [-10.05, -3], "nice": false, "zero": false},
         "axis": {"values": [-10.05, -9.34, -9, -8, -7, -6, -5, -4, -3], "labelExpr": "datum.value < -10 ? '0' : datum.value < -9.2 ? '' : '−' + format(-datum.value, 'd')", "domain": false, "tickSize": 6, "labelPadding": 1, "labelFlush": false, "labelOverlap": false, "labelBound": false},
         "title": null},
        "y": {"field": "y", "type": "quantitative", "scale": {"domain": [0, 8]}, "axis": {"values": [0, 1, 2, 3, 4, 5, 6, 7, 8], "tickSize": 6, "labels": false}, "title": null},
        "detail": {"field": "seg"}}},
      {"data": {"values": [{}]}, "mark": {"type": "rule", "color": "black", "strokeWidth": 1.2}, "encoding": {"x": {"datum": -10.05}, "x2": {"datum": -9.34}, "y": {"datum": 0, "axis": {"values": [0, 1, 2, 3, 4, 5, 6, 7, 8], "tickSize": 6, "labels": false}, "title": null}}},
      {"data": {"values": [{}]}, "mark": {"type": "rule", "color": "black", "strokeWidth": 1.2}, "encoding": {"x": {"datum": -9}, "x2": {"datum": -3}, "y": {"datum": 0, "axis": {"values": [0, 1, 2, 3, 4, 5, 6, 7, 8], "tickSize": 6, "labels": false}, "title": null}}},
      {"data": {"name": "curves"}, "transform": [{"filter": "datum.panel === 'E' && datum.series === 'R5HT'"}], "mark": {"type": "line", "color": "black", "strokeWidth": 2, "interpolate": "monotone"}, "encoding": {"x": {"field": "x", "type": "quantitative", "title": null}, "y": {"field": "y", "type": "quantitative", "axis": {"values": [0, 1, 2, 3, 4, 5, 6, 7, 8], "tickSize": 6, "labels": false}, "title": null}, "detail": {"field": "seg"}}},
      {"data": {"name": "curves"}, "transform": [{"filter": "datum.panel === 'E' && datum.series === 'RDA'"}], "mark": {"type": "line", "color": "#666666", "strokeWidth": 2.5, "interpolate": "monotone"}, "encoding": {"x": {"field": "x", "type": "quantitative", "title": null}, "y": {"field": "y", "type": "quantitative", "axis": {"values": [0, 1, 2, 3, 4, 5, 6, 7, 8], "tickSize": 6, "labels": false}, "title": null}}},
      {"data": {"name": "points"}, "transform": [{"filter": "datum.panel === 'E' && datum.upper != null"}], "mark": {"type": "rule", "color": "black", "strokeWidth": 2}, "encoding": {"x": {"field": "x", "type": "quantitative", "title": null}, "y": {"field": "y", "type": "quantitative", "axis": {"values": [0, 1, 2, 3, 4, 5, 6, 7, 8], "tickSize": 6, "labels": false}, "title": null}, "y2": {"field": "upper"}}},
      {"data": {"name": "points"}, "transform": [{"filter": "datum.panel === 'E' && datum.upper != null"}], "mark": {"type": "tick", "orient": "horizontal", "color": "black", "size": 13, "thickness": 2.5}, "encoding": {"x": {"field": "x", "type": "quantitative", "title": null}, "y": {"field": "upper", "type": "quantitative", "axis": {"values": [0, 1, 2, 3, 4, 5, 6, 7, 8], "tickSize": 6, "labels": false}, "title": null}}},
      {"data": {"name": "points"}, "transform": [{"filter": "datum.panel === 'E' && datum.series === 'HEK'"}], "mark": {"type": "point", "shape": "M-1,-1L1,1M-1,1L1,-1", "size": 140, "strokeWidth": 2.5, "color": "black", "filled": false, "opacity": 1}, "encoding": {"x": {"field": "x", "type": "quantitative", "title": null}, "y": {"field": "y", "type": "quantitative", "axis": {"values": [0, 1, 2, 3, 4, 5, 6, 7, 8], "tickSize": 6, "labels": false}, "title": null}}},
      {"data": {"name": "points"}, "transform": [{"filter": "datum.panel === 'E' && datum.series === 'R5HT'"}], "mark": {"type": "point", "shape": "square", "size": 210, "color": "black", "filled": true, "opacity": 1}, "encoding": {"x": {"field": "x", "type": "quantitative", "title": null}, "y": {"field": "y", "type": "quantitative", "axis": {"values": [0, 1, 2, 3, 4, 5, 6, 7, 8], "tickSize": 6, "labels": false}, "title": null}}},
      {"data": {"name": "points"}, "transform": [{"filter": "datum.panel === 'E' && datum.series === 'RDA'"}], "mark": {"type": "point", "shape": "circle", "size": 130, "strokeWidth": 2.3, "color": "black", "filled": false, "opacity": 1}, "encoding": {"x": {"field": "x", "type": "quantitative", "title": null}, "y": {"field": "y", "type": "quantitative", "axis": {"values": [0, 1, 2, 3, 4, 5, 6, 7, 8], "tickSize": 6, "labels": false}, "title": null}}},
      {"data": {"name": "one"}, "mark": {"type": "point", "shape": "M-1,-1L1,1M-1,1L1,-1", "size": 130, "strokeWidth": 2.5, "color": "black", "filled": false, "opacity": 1}, "encoding": {"x": {"datum": -9.18, "type": "quantitative"}, "y": {"datum": 7.53, "type": "quantitative", "axis": {"values": [0, 1, 2, 3, 4, 5, 6, 7, 8], "tickSize": 6, "labels": false}, "title": null}}},
      {"data": {"name": "one"}, "mark": {"type": "point", "shape": "square", "size": 175, "color": "black", "filled": true, "opacity": 1}, "encoding": {"x": {"datum": -9.18, "type": "quantitative"}, "y": {"datum": 6.78, "type": "quantitative", "axis": {"values": [0, 1, 2, 3, 4, 5, 6, 7, 8], "tickSize": 6, "labels": false}, "title": null}}},
      {"data": {"name": "one"}, "mark": {"type": "point", "shape": "circle", "size": 115, "strokeWidth": 2.3, "color": "black", "filled": false, "opacity": 1}, "encoding": {"x": {"datum": -9.18, "type": "quantitative"}, "y": {"datum": 6.02, "type": "quantitative", "axis": {"values": [0, 1, 2, 3, 4, 5, 6, 7, 8], "tickSize": 6, "labels": false}, "title": null}}},
      {"data": {"name": "one"}, "mark": {"type": "text", "align": "left", "baseline": "top", "fontSize": 15, "lineHeight": 26}, "encoding": {"x": {"datum": -8.96, "type": "quantitative"}, "y": {"datum": 7.72, "type": "quantitative", "axis": {"values": [0, 1, 2, 3, 4, 5, 6, 7, 8], "tickSize": 6, "labels": false}, "title": null}, "text": {"value": ["HEK 5-HT", "5-HT", "5-HT"]}}},
      {"data": {"name": "one"}, "mark": {"type": "text", "align": "left", "baseline": "top", "fontSize": 11.5, "lineHeight": 26, "dx": 34, "dy": 7}, "encoding": {"x": {"datum": -8.96, "type": "quantitative"}, "y": {"datum": 7.72, "type": "quantitative", "axis": {"values": [0, 1, 2, 3, 4, 5, 6, 7, 8], "tickSize": 6, "labels": false}, "title": null}, "text": {"value": [" ", "2βPro", "2βPro"]}}},
      {"data": {"name": "one"}, "mark": {"type": "text", "align": "left", "baseline": "top", "fontSize": 15, "lineHeight": 26, "dx": 70}, "encoding": {"x": {"datum": -8.96, "type": "quantitative"}, "y": {"datum": 7.72, "type": "quantitative", "axis": {"values": [0, 1, 2, 3, 4, 5, 6, 7, 8], "tickSize": 6, "labels": false}, "title": null}, "text": {"value": [" ", "5-HT", "DA"]}}}
     ]
    }
   ]
  }
 ]
}
